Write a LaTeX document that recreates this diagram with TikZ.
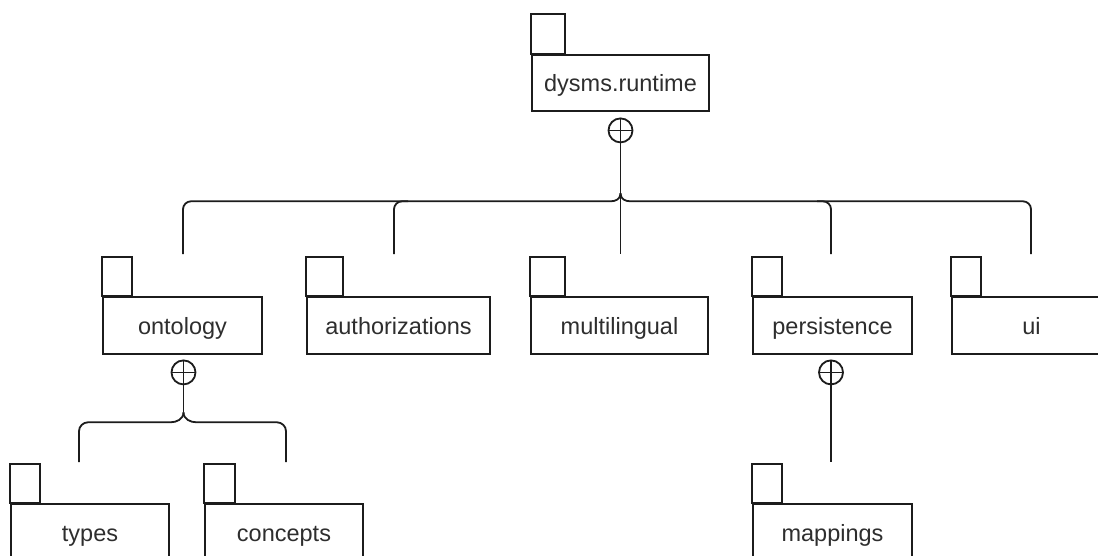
\documentclass[tikz,border=0pt]{standalone}
\usepackage{fontspec}
\setmainfont{Liberation Sans}
\usetikzlibrary{calc}
\definecolor{ink}{HTML}{1C1C1C}
\definecolor{label}{HTML}{2E2E2E}
\tikzset{
  pkgline/.style={draw=ink, line width=1.8pt},
  pkgbody/.style={pkgline, rectangle, fill=white, inner sep=0pt,
    minimum height=57, text height=22, text depth=4, text=label,
    font=\fontsize{23.5}{27}\selectfont},
  link/.style={draw=ink, line width=1.8pt},
  oplus/.style={circle, draw=ink, line width=1.8pt, minimum size=24, inner sep=0pt,
    path picture={
      \draw[ink, line width=1.6pt] (path picture bounding box.north) -- (path picture bounding box.south)
        (path picture bounding box.west) -- (path picture bounding box.east);}},
}
\begin{document}
\begin{tikzpicture}[x=1pt, y=-1pt]
  \useasboundingbox (0,0) rectangle (1098,556);
  \clip (0,0) rectangle (1098,556);
  \fill[white] (0,0) rectangle (1098,556);

  % package bodies
  \node[pkgbody, minimum width=177, minimum height=56] (runtime) at (620.5,83) {dysms.runtime};
  \node[pkgbody, minimum width=159] (ontology) at (182.5,325.5) {ontology};
  \node[pkgbody, minimum width=183] (auth) at (398.5,325.5) {authorizations};
  \node[pkgbody, minimum width=177] (multi) at (619.5,325.5) {multilingual};
  \node[pkgbody, minimum width=159] (persist) at (832.5,325.5) {persistence};
  \node[pkgbody, minimum width=159] (ui) at (1031.5,325.5) {ui};
  \node[pkgbody, minimum width=158] (types) at (90,532.5) {types};
  \node[pkgbody, minimum width=158] (concepts) at (284,532.5) {concepts};
  \node[pkgbody, minimum width=159] (mappings) at (832.5,532.5) {mappings};

  % package tabs
  \draw[pkgline] (runtime.north west) rectangle ++(34,-40);
  \draw[pkgline] (ontology.north west) rectangle ++(30,-39);
  \draw[pkgline] (auth.north west) rectangle ++(37,-39);
  \draw[pkgline] (multi.north west) rectangle ++(35,-39);
  \draw[pkgline] (persist.north west) rectangle ++(30,-39);
  \draw[pkgline] (ui.north west) rectangle ++(30,-39);
  \draw[pkgline] (types.north west) rectangle ++(30,-39);
  \draw[pkgline] (concepts.north west) rectangle ++(31,-39);
  \draw[pkgline] (mappings.north west) rectangle ++(30,-39);

  % containment marks
  \node[oplus] (p0) at ($(runtime.south)+(0,18.5)$) {};
  \node[oplus] (p1) at ($(ontology.south)+(1,17.5)$) {};
  \node[oplus] (p2) at ($(persist.south)+(-1.5,17.5)$) {};

  % connector end points above the children
  \coordinate (ontT) at ($(ontology.north)+(0.5,-42)$);
  \coordinate (authT) at ($(auth.north)+(-4.5,-42)$);
  \coordinate (multiT) at ($(multi.north)+(1,-42)$);
  \coordinate (persT) at ($(persist.north)+(-1.5,-42)$);
  \coordinate (uiT) at ($(ui.north)+(-0.5,-42)$);
  \coordinate (typesT) at ($(types.north)+(-11,-41)$);
  \coordinate (conT) at ($(concepts.north)+(2,-41)$);
  \coordinate (mapT) at ($(mappings.north)+(-1.5,-41)$);

  % dysms.runtime fan-out
  \coordinate (j0) at ($(p0.south)+(0,50)$);
  \coordinate (h0) at ($(j0)+(0,8)$);
  \draw[link] (p0.south) -- (p0.south |- multiT);
  \draw[link] (j0) .. controls +(0,6) and +(5,0) .. ($(h0)+(-10,0)$)
    [rounded corners=8] -- (ontT |- h0) -- (ontT);
  \draw[link] (j0) .. controls +(0,6) and +(-5,0) .. ($(h0)+(10,0)$)
    [rounded corners=8] -- (uiT |- h0) -- (uiT);
  \draw[link, rounded corners=8] ($(authT |- h0)+(14,0)$) -- (authT |- h0) -- (authT);
  \draw[link, rounded corners=8] ($(persT |- h0)+(-14,0)$) -- (persT |- h0) -- (persT);

  % ontology fan-out
  \coordinate (j1) at ($(p1.south)+(0,27)$);
  \coordinate (h1) at ($(j1)+(0,10)$);
  \draw[link] (p1.south) -- (j1);
  \draw[link] (j1) .. controls +(0,7) and +(6,0) .. ($(h1)+(-13,0)$)
    [rounded corners=9] -- (typesT |- h1) -- (typesT);
  \draw[link] (j1) .. controls +(0,7) and +(-6,0) .. ($(h1)+(13,0)$)
    [rounded corners=9] -- (conT |- h1) -- (conT);

  % persistence link
  \draw[link] (p2.south) -- (p2.south |- mapT);
\end{tikzpicture}
\end{document}
